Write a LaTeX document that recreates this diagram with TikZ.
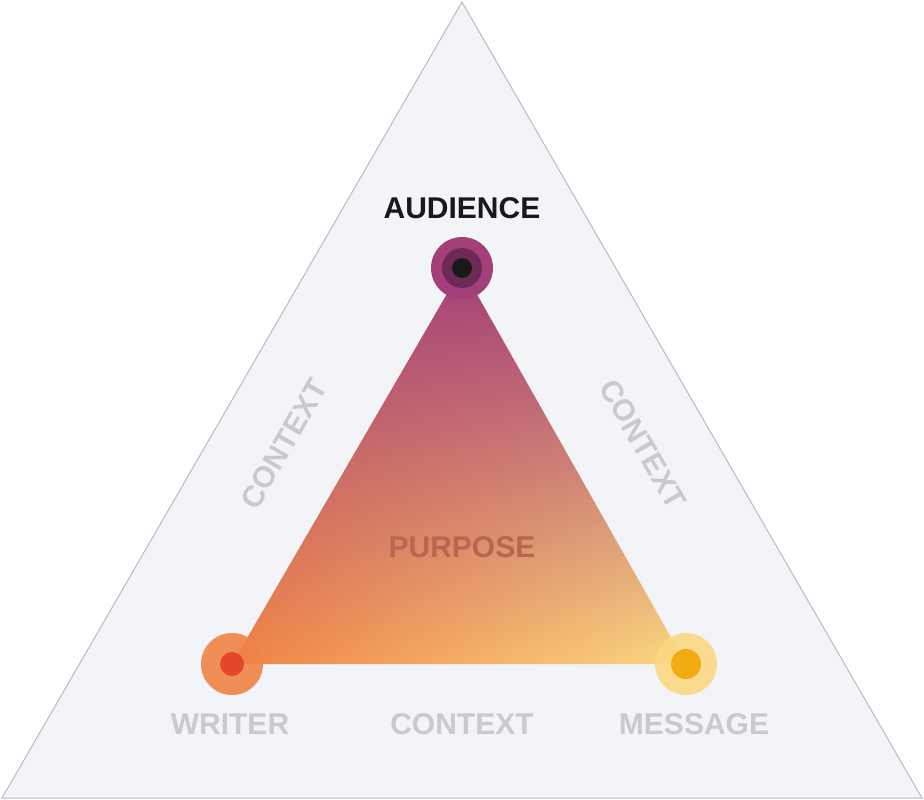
\documentclass[tikz,border=0pt]{standalone}
\usepackage{fontspec}
\setmainfont{Liberation Sans}
\usetikzlibrary{fadings}
\definecolor{paleback}{HTML}{F3F4F8}
\definecolor{edgegray}{HTML}{B8BAC4}
\definecolor{labelgray}{HTML}{C9C9CE}
\definecolor{plum}{HTML}{A3407A}
\definecolor{plumdark}{HTML}{6E2A57}
\definecolor{tangerine}{HTML}{F08346}
\definecolor{tangerinedark}{HTML}{E2472A}
\definecolor{honey}{HTML}{FBD982}
\definecolor{honeydark}{HTML}{F2AC12}
\definecolor{purposetext}{HTML}{B8674F}
\tikzset{
  sidelabel/.style={font=\bfseries\fontsize{30}{30}\selectfont, text=labelgray},
  ring/.style={circle, minimum size=#1, inner sep=0pt}
}
\begin{document}
\begin{tikzpicture}[x=1pt,y=-1pt]
    \useasboundingbox (0,0) rectangle (924,800);
    \coordinate (O0) at (462,2);
    \coordinate (O1) at (2,798);
    \coordinate (O2) at (922,798);
    \coordinate (A) at (462,268);
    \coordinate (W) at (232,664);
    \coordinate (M) at (686,664);
    % outer triangle
    \draw[edgegray,fill=paleback,line width=1pt] (O0) -- (O1) -- (O2) -- cycle;
    % inner triangle
    \shade[left color=tangerine,right color=honey] (A) -- (W) -- (M) -- cycle;
    \fill[plum,path fading=south] (A) -- (W) -- (M) -- cycle;
    % corners
    \node[ring=62pt,fill=plum] (audience) at (A) {};
    \node[ring=40pt,fill=plumdark] at (A) {};
    \node[ring=20pt,fill=black!90] at (A) {};
    \node[ring=62pt,fill=tangerine,opacity=0.9] (writer) at (W) {};
    \node[ring=24pt,fill=tangerinedark] at (W) {};
    \node[ring=62pt,fill=honey,opacity=0.9] (message) at (M) {};
    \node[ring=30pt,fill=honeydark] at (M) {};
    % labels
    \node[font=\bfseries\fontsize{30}{30}\selectfont,text=black!90] (audtext) at (462,208) {AUDIENCE};
    \node[sidelabel] (wtext) at (230,724) {WRITER};
    \node[sidelabel] (ctext) at (462,724) {CONTEXT};
    \node[sidelabel] (mtext) at (694,724) {MESSAGE};
    \node[sidelabel,rotate=60] (cleft) at (284,444) {CONTEXT};
    \node[sidelabel,rotate=-60] (cright) at (643,444) {CONTEXT};
    \node[font=\bfseries\fontsize{30}{30}\selectfont,text=purposetext] (purpose) at (462,547) {PURPOSE};
  \end{tikzpicture}
\end{document}
